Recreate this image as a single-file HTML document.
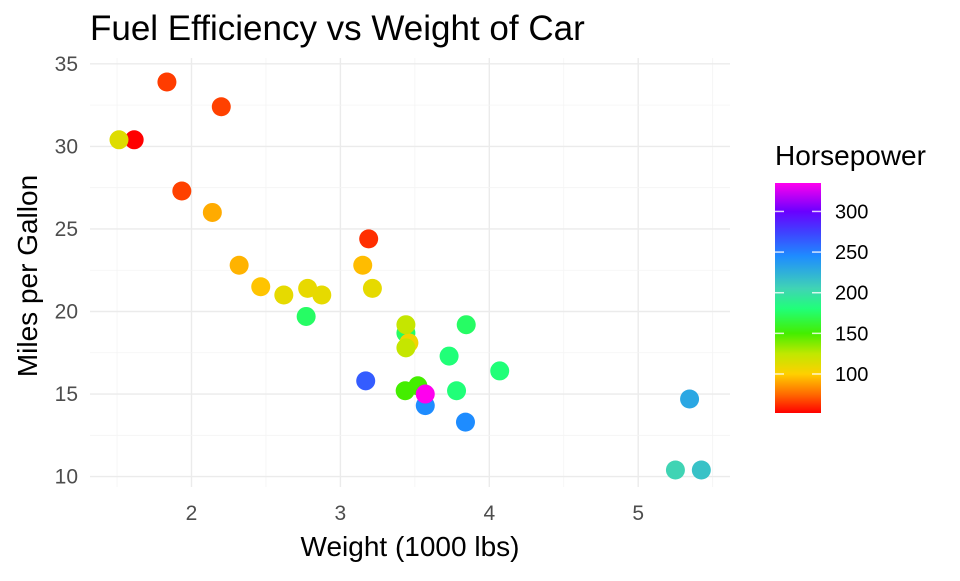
<!DOCTYPE html>
<html><head><meta charset="utf-8"><style>
body{margin:0;background:#fff;}
svg text{font-family:"Liberation Sans",sans-serif;}
</style></head><body>
<svg id="s" width="960" height="576" xmlns="http://www.w3.org/2000/svg">
<defs>
<linearGradient id="g" x1="0" y1="1" x2="0" y2="0"></linearGradient>
</defs>
<g id="grid"></g>
<g id="pts"></g>
<text x="90" y="40" font-size="35" fill="#000">Fuel Efficiency vs Weight of Car</text>
<text x="410" y="556" font-size="28" text-anchor="middle" fill="#000">Weight (1000 lbs)</text>
<text transform="translate(37,276) rotate(-90)" font-size="28" text-anchor="middle" fill="#000">Miles per Gallon</text>
<text x="775" y="165" font-size="28" fill="#000">Horsepower</text>
<rect x="775" y="183" width="46" height="230" fill="url(#g)"/>
<g id="leg"></g>
</svg>
<script>
const S=[[52,'ff0000'],[75,'ff6a00'],[100,'ffd000'],[125,'c0e800'],[150,'44ee00'],[180,'20ff78'],[205,'40d4b4'],[245,'1e8cff'],[275,'4040ff'],[300,'6a00ff'],[335,'ff00ee']];
const hx=s=>[0,2,4].map(i=>parseInt(s.substr(i,2),16));
function col(h){for(let i=0;i<S.length-1;i++){const [a,ca]=S[i],[b,cb]=S[i+1];if(h<=b){const t=(h-a)/(b-a),A=hx(ca),B=hx(cb);return 'rgb('+A.map((v,k)=>Math.round(v+(B[k]-v)*t)).join(',')+')';}}return '#f0e';}
document.getElementById('g').innerHTML=S.map(([h,c])=>`<stop offset="${(h-52)/283}" stop-color="#${c}"/>`).join('');
const X=v=>191.5+(v-2)*148.9, Y=v=>476.6-(v-10)*16.51;
let g='';
for(let v=1.5;v<=5.5;v+=0.5){const maj=v%1==0;g+=`<line x1="${X(v)}" x2="${X(v)}" y1="58" y2="487" stroke="${maj?'#ebebeb':'#f4f4f4'}" stroke-width="${maj?1.4:0.8}"/>`;}
for(let v=10;v<=35;v+=2.5){const maj=v%5==0;g+=`<line x1="90" x2="730" y1="${Y(v)}" y2="${Y(v)}" stroke="${maj?'#ebebeb':'#f4f4f4'}" stroke-width="${maj?1.4:0.8}"/>`;}
for(let v=2;v<=5;v++)g+=`<text x="${X(v)}" y="520" font-size="21" fill="#4d4d4d" text-anchor="middle">${v}</text>`;
for(let v=10;v<=35;v+=5)g+=`<text x="78" y="${Y(v)+7}" font-size="21" fill="#4d4d4d" text-anchor="end">${v}</text>`;
document.getElementById('grid').innerHTML=g;
const d=[[2.62,21,110],[2.875,21,110],[2.32,22.8,93],[3.215,21.4,110],[3.44,18.7,175],[3.46,18.1,105],[3.57,14.3,245],[3.19,24.4,62],[3.15,22.8,95],[3.44,19.2,123],[3.44,17.8,123],[4.07,16.4,180],[3.73,17.3,180],[3.78,15.2,180],[5.25,10.4,205],[5.424,10.4,215],[5.345,14.7,230],[2.2,32.4,66],[1.615,30.4,52],[1.835,33.9,65],[2.465,21.5,97],[3.52,15.5,150],[3.435,15.2,150],[3.84,13.3,245],[3.845,19.2,175],[1.935,27.3,66],[2.14,26,91],[1.513,30.4,113],[3.17,15.8,264],[2.77,19.7,175],[3.57,15,335],[2.78,21.4,109]];
let p='';
for(const [w,m,h] of d){p+=`<circle cx="${X(w)}" cy="${Y(m)}" r="9.5" fill="${col(h)}"/>`;}
document.getElementById('pts').innerHTML=p;
let l='';
for(let v=100;v<=300;v+=50){const y=413-(v-52)*230/283;l+=`<line x1="775" x2="784" y1="${y}" y2="${y}" stroke="#fff" stroke-opacity="0.8" stroke-width="1.5"/><line x1="812" x2="821" y1="${y}" y2="${y}" stroke="#fff" stroke-opacity="0.8" stroke-width="1.5"/><text x="835" y="${y+7}" font-size="20" fill="#000">${v}</text>`;}
document.getElementById('leg').innerHTML=l;
</script>
</body></html>
